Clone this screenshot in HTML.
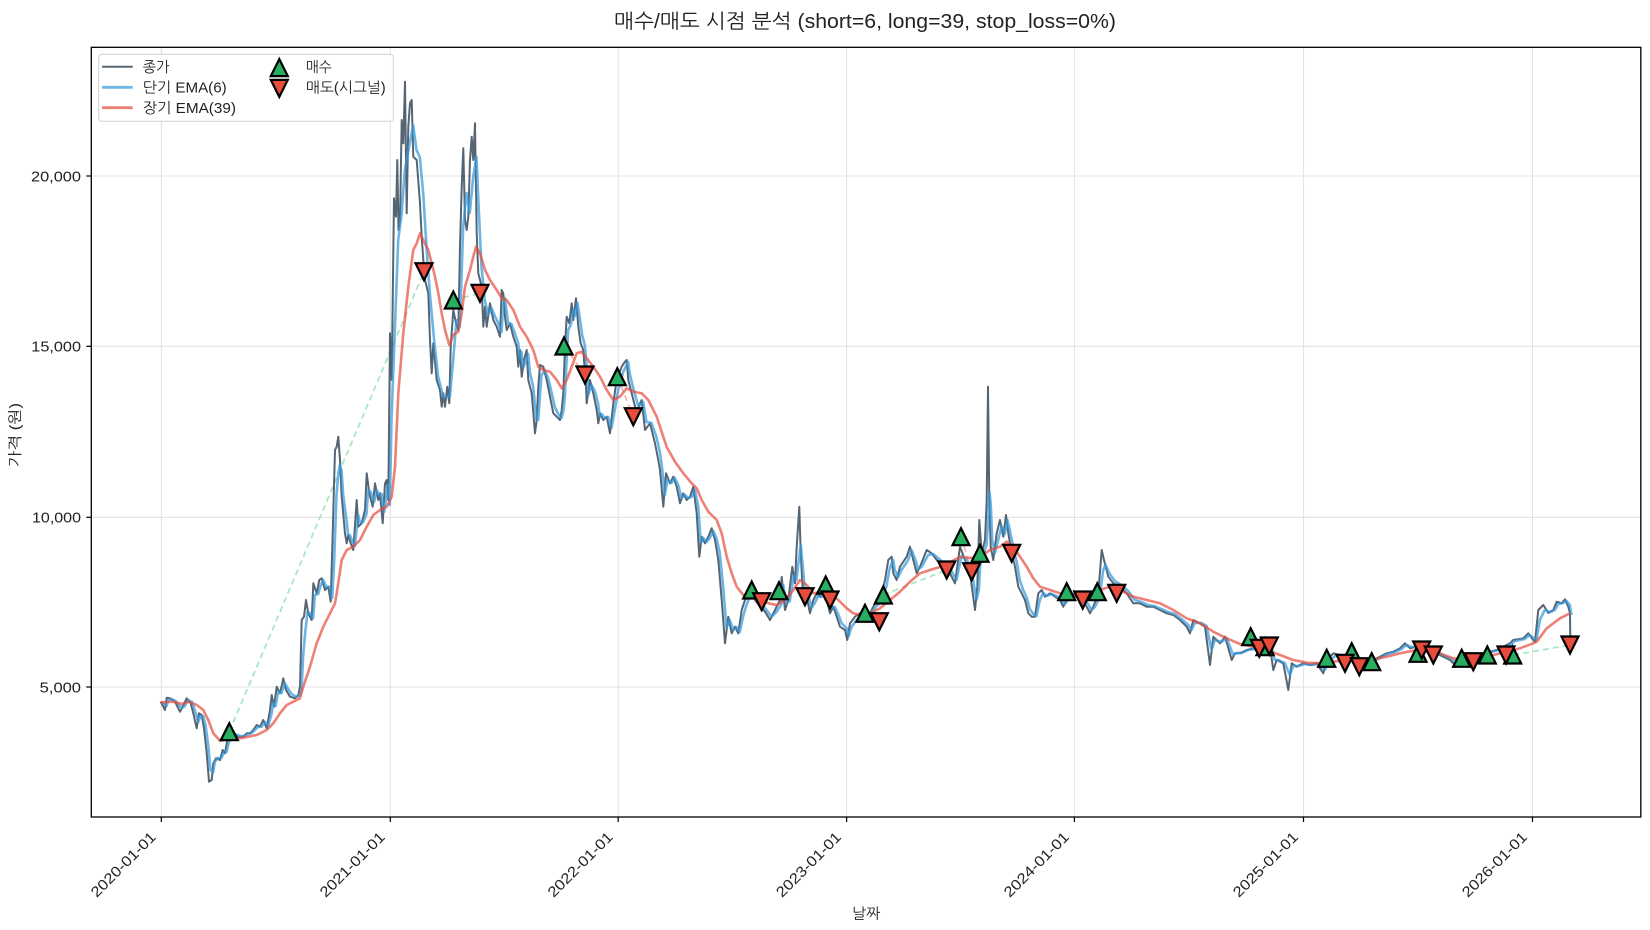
<!DOCTYPE html>
<html>
<head>
<meta charset="utf-8">
<style>
html,body{margin:0;padding:0;background:#fff;}
svg{display:block;}
text{font-family:"Liberation Sans","NanumGothic",sans-serif;fill:#222;}
</style>
</head>
<body>
<svg width="1650" height="930" viewBox="0 0 1650 930" xmlns="http://www.w3.org/2000/svg">
<defs>
<path id="up" d="M0,-8.5 L-8.5,8.5 L8.5,8.5 Z" fill="#27ae60" stroke="#000" stroke-width="2.2" stroke-linejoin="miter"/>
<path id="dn" d="M0,8.5 L-8.5,-8.5 L8.5,-8.5 Z" fill="#e74c3c" stroke="#000" stroke-width="2.2" stroke-linejoin="miter"/>
<clipPath id="ax"><rect x="91.3" y="47.3" width="1549.5" height="769.7"/></clipPath>
</defs>
<rect width="1650" height="930" fill="#fff"/>

<!-- grid -->
<g stroke="#e3e3e3" stroke-width="1.1">
<line x1="161.3" y1="47.3" x2="161.3" y2="817"/>
<line x1="390.3" y1="47.3" x2="390.3" y2="817"/>
<line x1="618.2" y1="47.3" x2="618.2" y2="817"/>
<line x1="846.6" y1="47.3" x2="846.6" y2="817"/>
<line x1="1074.4" y1="47.3" x2="1074.4" y2="817"/>
<line x1="1303.5" y1="47.3" x2="1303.5" y2="817"/>
<line x1="1532.5" y1="47.3" x2="1532.5" y2="817"/>
<line x1="91.3" y1="176" x2="1640.8" y2="176"/>
<line x1="91.3" y1="346.3" x2="1640.8" y2="346.3"/>
<line x1="91.3" y1="517.3" x2="1640.8" y2="517.3"/>
<line x1="91.3" y1="687" x2="1640.8" y2="687"/>
</g>

<g clip-path="url(#ax)">
<!-- trade dashed lines -->
<g stroke-width="1.8" stroke-dasharray="6,4" fill="none">
<line x1="229.3" y1="731.7" x2="424" y2="271.7" stroke="#abe6c3"/>
<line x1="453.3" y1="300" x2="480" y2="293.3" stroke="#abe6c3"/>
<line x1="564" y1="346" x2="585" y2="375" stroke="#f5b7b1"/>
<line x1="617.3" y1="376.7" x2="633.3" y2="416.7" stroke="#f5b7b1"/>
<line x1="883.3" y1="595" x2="946.7" y2="570" stroke="#abe6c3"/>
<line x1="961" y1="536.7" x2="971.7" y2="571.7" stroke="#f5b7b1"/>
<line x1="1513.3" y1="655" x2="1570" y2="645" stroke="#abe6c3"/>
</g>

<!-- close -->
<polyline fill="none" stroke="#2c3e50" stroke-opacity="0.8" stroke-width="2" stroke-linejoin="round" points="160.7,701.7 165,710 166.7,697.7 170,698.3 175,701.7 180,711.7 182.7,706.7 186.7,698.3 190.7,703.3 193.3,713.3 196.7,728.3 199,713.3 201.7,715 204,728.3 206.7,753.3 209,781.7 211.7,780 213.3,763.3 216,758.3 220,760 222.7,750 225,753.3 227.3,740 230,731.7 233.3,733.3 238.3,736.7 243.3,736.7 246.7,733.3 250,733.3 253.3,730 256.7,725 260,726.7 263.3,720 266.7,728.3 270,710 271.7,695 274,706.7 276.7,686.7 280,693.3 283.3,678.3 286,690 290,696.7 295,698.3 298.3,695 300,686.7 301.7,620 304,616.7 306,600 308.3,613.3 311.7,620 313.3,583.3 316.7,593.3 319.3,580 321.7,578.3 325,590 328.3,586.7 330.7,601.7 332.7,533.3 335,450 336.7,446.7 338.3,436.7 340,460 341.7,496.7 345,533.3 346.7,543.3 348.3,535 350.7,543.3 353.3,550 356.7,500 358.3,526.7 361.7,523.3 365,510 366.7,473.3 369.3,493.3 372.7,506.7 375,483.3 378.3,500 380,493.3 382.7,523.3 385,483.3 386.7,480 388.3,500 390,333.3 391.7,380 393.3,253.3 394,198.3 396,216.7 397.3,160 398.5,230 400,220 401.7,120 403.3,143.3 405,81.7 406.7,213.3 408.3,126.7 410,103.3 411.7,100 413.3,156.7 416.7,160 420,203.3 421.7,236.7 423.3,260 425,280 428.3,293.3 430,340 431.7,373.3 433.3,343.3 436.7,380 440,390 441.7,406.7 443.3,393.3 445,406.7 447.3,386.7 449.3,403.3 450.7,346.7 453.3,310 456,323.3 458.3,330 460,246.7 461.7,186.7 463.3,148.3 465,220 466.7,230 468.3,216.7 470,160 471.7,136.7 473.3,160 475,123.3 476.7,233.3 478.3,273.3 481.7,286.7 483.3,326.7 485,306.7 486.7,326.7 490,303.3 493.3,320 496.7,326.7 500,336.7 501.7,290 503.3,293.3 505,316.7 506.7,330 510,323.3 513.3,336.7 516.7,346.7 518.3,366.7 520,350 521.7,376.7 524,360 526.7,350 528.3,380 531.7,393.3 535,433.3 536.7,420 538.3,386.7 540,365 543.3,366.7 546.7,380 550,396.7 553.3,413.3 556.7,416.7 560,420 561.7,410 563.3,393.3 565,346.7 566.7,316.7 569.3,323.3 571.7,303.3 573.3,320 576,298.3 578.3,326.7 580.7,343.3 583.3,350 586,386.7 586.7,403.3 590,380 593.3,393.3 596.7,410 598.3,423.3 600,413.3 603.3,420 606.7,416.7 610,433.3 613.3,403.3 616.7,380 621.7,366.7 625,361.7 626.7,360 628.3,380 631.7,393.3 636.7,413.3 640,403.3 641.7,400 645,430 650,423.3 655,443.3 658.3,460 660,470 663.3,506.7 666,473.3 670,483.3 673.3,476.7 676.7,486.7 680,503.3 683.3,493.3 686.7,500 690,496.7 693.3,486.7 696.7,513.3 699.3,556.7 701.7,536.7 705,543.3 708.3,536.7 711.7,528.3 715,540 718.3,560 721.7,600 725,643.3 728.3,616.7 731.7,633.3 735,626.7 738.3,633.3 741.7,610 745,600 748.3,593.3 751.7,586.7 755,600 760,606.7 765,611.7 770,620 775,610 780,600 781.7,576.7 785,610 788.3,600 792.3,566.7 795,583.3 796.7,546.7 799.3,506.7 800.7,553.3 803.3,600 806.7,596.7 810,613.3 813.3,600 816.7,593.3 820,596.7 823.3,586.7 826.7,600 830,613.3 833.3,606.7 836.7,616.7 840,626.7 845,630 847.3,640 850,623.3 855,616.7 860,613.3 865,610 870,613.3 875,603.3 880,600 885,580 888.3,560 891.7,556.7 893.3,573.3 896.7,580 900,566.7 906.7,556.7 910,546.7 913.3,560 916.7,573.3 920,566.7 926.7,550 931.7,553.3 936.7,560 943.3,566.7 950,573.3 955,583.3 960,546.7 965,560 970,573.3 975,610 977.3,586.7 979.3,520 981.7,553.3 985,540 986.7,500 988,386.7 989.3,500 990.7,546.7 993.3,560 996.7,533.3 1000,520 1003.3,536.7 1006,515 1008.3,533.3 1011.7,553.3 1015,566.7 1018.3,586.7 1021.7,593.3 1025,600 1028.3,613.3 1031.7,616.7 1035,616.7 1038.3,593.3 1041.7,590 1045,596.7 1050,593.3 1055,596.7 1060,600 1063.3,606.7 1070,593.3 1076.7,595 1081.7,600 1086.7,606.7 1090,613.3 1093.3,606.7 1098.3,593.3 1101.7,550 1104,560 1108.3,576.7 1113.3,583.3 1120,586.7 1126.7,593.3 1133.3,603.3 1140,603.3 1146.7,606.7 1153.3,606.7 1160,610 1166.7,613.3 1173.3,615 1180,620 1186.7,626.7 1190,633.3 1193.3,620 1200,623.3 1205,626.7 1210,665 1213.3,636.7 1220,643.3 1225,636.7 1231.7,660 1235,653.3 1240,653.3 1246.7,650 1253.3,648.3 1260,650 1265,643.3 1270,646.7 1273.3,670 1276.7,660 1283.3,663.3 1288.3,690 1291.7,663.3 1296.7,666.7 1303.3,663.3 1310,665 1316.7,663.3 1323.3,673.3 1326.7,660 1333.3,653.3 1340,655 1346.7,656.7 1353.3,660 1360,666.7 1366.7,666.7 1373.3,660 1380,656.7 1386.7,653.3 1393.3,651.7 1400,648.3 1405,643.3 1410,648.3 1416.7,646.7 1423.3,650 1430,653.3 1436.7,653.3 1443.3,656.7 1450,660 1456.7,666.7 1463.3,663.3 1470,660 1476.7,656.7 1483.3,653.3 1490,651.7 1496.7,650 1503.3,646.7 1510,643.3 1513.3,640 1523.3,638.3 1528.3,633.3 1533.3,640 1535,641.7 1538.3,610 1543.3,605 1548.3,613 1553.3,610 1556.7,601.7 1561.7,603.3 1565,599.3 1568.3,606.7 1570,613.3 1570.3,638"/>

<!-- short EMA -->
<polyline transform="translate(1.5,0)" fill="none" stroke="#3498db" stroke-opacity="0.72" stroke-width="2.6" stroke-linejoin="round" points="160.7,701.7 165,706 166.7,700 170,699 175,701.7 180,708 182.7,706.7 186.7,700 190.7,702 193.3,710 196.7,722 199,716 201.7,716 204,725 206.7,745 209,770 211.7,772 213.3,762 216,758 220,758 222.7,752 225,752 227.3,743 230,735 233.3,734 238.3,736 243.3,736 246.7,734 250,733 253.3,730 256.7,727 260,726.7 263.3,722 266.7,726 270,714 271.7,703 274,706 276.7,692 280,693 283.3,683 286,688 290,694 295,697 298.3,695 300,690 301.7,655 304,630 306,612 308.3,613 311.7,618 313.3,595 316.7,594 319.3,585 321.7,580 325,587 328.3,587 330.7,598 332.7,560 335,495 336.7,475 338.3,465 340,470 341.7,495 345,520 346.7,535 348.3,535 350.7,541 353.3,546 356.7,515 358.3,522 361.7,522 365,514 366.7,490 369.3,492 372.7,502 375,490 378.3,496 380,494 382.7,512 385,495 386.7,485 388.3,505 390,420 393.3,330 396.7,240 400,215 403.3,170 408.3,143 411.7,125 415,150 418.3,157 421.7,193 425,247 428.3,293 433.3,347 436.7,377 441.7,397 448.3,397 451.7,360 455,320 458.3,327 461.7,227 465,193 468.3,213 471.7,177 475,157 477.3,210 480,267 483.3,300 486.7,315 490,308 493.3,316 496.7,323 500,332 501.7,305 503.3,298 505,310 506.7,324 510,324 513.3,333 516.7,343 518.3,358 520,352 521.7,368 524,362 526.7,354 528.3,372 531.7,387 535,420 536.7,420 538.3,398 540,375 543.3,370 546.7,378 550,392 553.3,407 556.7,414 560,418 561.7,412 563.3,398 565,362 566.7,330 569.3,325 571.7,310 573.3,316 576,303 578.3,318 580.7,335 583.3,345 586,375 586.7,395 590,385 593.3,391 596.7,404 598.3,417 600,414 603.3,418 606.7,417 610,428 613.3,410 616.7,390 621.7,372 625,365 626.7,362 628.3,374 631.7,388 636.7,406 640,404 641.7,402 645,422 650,423 655,437 658.3,452 660,463 663.3,495 666,480 670,483 673.3,478 676.7,485 680,498 683.3,495 686.7,498 690,497 693.3,490 696.7,506 699.3,543 701.7,538 705,542 708.3,538 711.7,531 715,538 718.3,553 721.7,587 725,628 728.3,620 731.7,630 735,627 738.3,632 741.7,616 745,605 748.3,597 751.7,590 755,597 760,604 765,610 770,617 775,612 780,604 781.7,585 785,603 788.3,601 792.3,575 795,580 796.7,565 799.3,545 800.7,560 803.3,590 806.7,595 810,608 813.3,603 816.7,596 820,597 823.3,590 826.7,597 830,608 833.3,607 836.7,614 840,623 845,628 847.3,636 850,627 855,620 860,615 865,611 870,613 875,606 880,602 885,586 888.3,568 891.7,560 893.3,570 896.7,577 900,570 906.7,560 910,550 913.3,558 916.7,569 920,567 926.7,555 931.7,554 936.7,558 943.3,564 950,571 955,580 960,556 965,560 970,570 975,600 977.3,590 979.3,555 981.7,555 985,545 986.7,520 988,492 989.3,505 990.7,540 993.3,553 996.7,540 1000,526 1003.3,534 1006,520 1008.3,530 1011.7,547 1015,561 1018.3,580 1021.7,590 1025,597 1028.3,609 1031.7,614 1035,616 1038.3,600 1041.7,593 1045,596 1050,594 1055,596 1060,599 1063.3,604 1070,596 1076.7,595 1081.7,599 1086.7,604 1090,610 1093.3,607 1098.3,597 1101.7,570 1104,565 1108.3,574 1113.3,581 1120,585 1126.7,591 1133.3,600 1140,602 1146.7,605 1153.3,606 1160,609 1166.7,612 1173.3,614 1180,619 1186.7,625 1190,630 1193.3,623 1200,623 1205,626 1210,650 1213.3,640 1220,642 1225,638 1231.7,655 1235,653 1240,653 1246.7,650 1253.3,649 1260,650 1265,645 1270,646 1273.3,660 1276.7,660 1283.3,663 1288.3,675 1291.7,666 1296.7,666 1303.3,664 1310,665 1316.7,664 1323.3,670 1326.7,663 1333.3,656 1340,655 1346.7,656 1353.3,659 1360,665 1366.7,666 1373.3,661 1380,657 1386.7,654 1393.3,652 1400,649 1405,645 1410,647 1416.7,647 1423.3,649 1430,652 1436.7,653 1443.3,656 1450,659 1456.7,665 1463.3,664 1470,661 1476.7,657 1483.3,654 1490,652 1496.7,650 1503.3,647 1510,644 1513.3,641 1523.3,639 1528.3,635 1533.3,639 1535,640 1538.3,620 1543.3,610 1548.3,612 1553.3,610 1556.7,604 1561.7,603 1565,601 1568.3,605 1570,615"/>

<!-- long EMA -->
<polyline fill="none" stroke="#e74c3c" stroke-opacity="0.7" stroke-width="2.6" stroke-linejoin="round" points="160.7,702.3 173.3,701.7 181.7,704 188.3,701.7 196.7,705 203.3,710 208.3,720 213.3,733.3 220,740.7 230,738.3 240,738.3 248.3,736.7 256.7,735 266.7,730 273.3,723.3 280,713.3 286.7,705 293.3,701.7 300,698.3 303.3,686.7 310,666.7 316.7,643.3 323.3,626.7 330,613.3 335,603.3 336.7,593.3 341.7,560 346.7,550 353.3,546.7 360,540 366.7,526.7 373.3,515 380,510 386.7,506.7 391.7,496.7 395,466.7 398.3,393.3 403.3,333.3 408.3,286.7 413.3,250 416.7,243.3 420,233.3 423.3,240 428.3,250 431.7,263.3 435,276.7 438.3,293.3 441.7,313.3 445,330 449.3,345 453.3,335 458.3,331.7 461.7,313.3 465,286.7 470,270 473.3,256.7 476,246.7 480,253.3 485,270 490,280 496.7,290 501.7,298.3 506.7,300 513.3,310 520,326.7 526.7,336.7 533.3,350 538.3,366.7 543.3,370 550,371.7 556.7,380 561.7,388.3 566.7,380 571.7,366.7 576.7,353.3 581.7,351.7 586.7,358.3 593.3,366.7 600,376.7 606.7,390 613.3,400 620,396.7 626.7,388.3 633.3,391.7 641.7,393.3 648.3,400 656.7,416.7 663.3,436.7 666.7,447 675,461.7 683.3,473.3 691.7,483.3 696.7,488.3 701.7,500 708.3,511.7 716.7,520 721.7,533.3 726.7,556.7 731.7,573.3 736.7,586.7 743.3,595 751.7,596.7 760,600 768.3,603.3 776.7,605 785,600 793.3,590 800,580 806.7,585 813.3,593.3 821.7,591.7 830,593.3 838.3,600 846.7,608.3 853.3,613.3 861.7,615 870,613.3 880,608.3 890,600 900,591.7 910,581.7 920,573.3 930,570 940,567 950,562 960,557 970,558 980,556.7 990,550 1000,546.7 1006.7,541.7 1013.3,546.7 1020,556.7 1026.7,566.7 1033.3,578.3 1040,586.7 1050,590 1060,593.3 1073.3,596.7 1086.7,596.7 1100,590 1110,586.7 1120,590 1133.3,596.7 1146.7,600 1160,603.3 1173.3,610 1186.7,618.3 1200,623.3 1213.3,631.7 1226.7,638.3 1240,644 1253.3,646.7 1266.7,650 1280,655 1293.3,660 1306.7,662.7 1320,663.3 1333.3,661.7 1346.7,660 1360,660 1373.3,659.3 1386.7,656.7 1400,653.3 1413.3,650.7 1426.7,650 1440,653.3 1453.3,658.3 1466.7,660 1480,658.3 1493.3,655 1506.7,651.7 1520,648.3 1533.3,643.3 1536.7,641.7 1546.7,628.3 1560,618.3 1570,613.3"/>

<!-- buy markers -->
<use href="#up" x="229.3" y="731.7"/>
<use href="#up" x="453.3" y="300"/>
<use href="#up" x="564" y="346"/>
<use href="#up" x="617.3" y="376.7"/>
<use href="#up" x="751.7" y="590"/>
<use href="#up" x="779" y="590.7"/>
<use href="#up" x="825.7" y="585"/>
<use href="#up" x="865" y="613.3"/>
<use href="#up" x="883.3" y="595"/>
<use href="#up" x="961" y="536.7"/>
<use href="#up" x="980" y="553.3"/>
<use href="#up" x="1066.7" y="591.7"/>
<use href="#up" x="1097.3" y="591.7"/>
<use href="#up" x="1250.7" y="636.7"/>
<use href="#up" x="1265" y="646.7"/>
<use href="#up" x="1326.7" y="658.3"/>
<use href="#up" x="1351.7" y="651.7"/>
<use href="#up" x="1371.7" y="661.7"/>
<use href="#up" x="1418" y="653.3"/>
<use href="#up" x="1461.7" y="658.3"/>
<use href="#up" x="1487.3" y="655"/>
<use href="#up" x="1512.7" y="655"/>
<!-- sell markers -->
<use href="#dn" x="424" y="271.7"/>
<use href="#dn" x="480" y="293.3"/>
<use href="#dn" x="585" y="375"/>
<use href="#dn" x="633.3" y="416.7"/>
<use href="#dn" x="761.7" y="601.7"/>
<use href="#dn" x="805" y="596.7"/>
<use href="#dn" x="830" y="600"/>
<use href="#dn" x="879.3" y="621.7"/>
<use href="#dn" x="946.7" y="570"/>
<use href="#dn" x="971.7" y="571.7"/>
<use href="#dn" x="1011.7" y="553.3"/>
<use href="#dn" x="1082.7" y="600"/>
<use href="#dn" x="1116.7" y="593.3"/>
<use href="#dn" x="1259.3" y="648.3"/>
<use href="#dn" x="1269.3" y="646"/>
<use href="#dn" x="1345" y="663.3"/>
<use href="#dn" x="1359.3" y="666.7"/>
<use href="#dn" x="1421.7" y="650"/>
<use href="#dn" x="1433.3" y="655"/>
<use href="#dn" x="1473.3" y="661.7"/>
<use href="#dn" x="1506" y="655"/>
<use href="#dn" x="1570" y="645"/>
</g>

<!-- axes frame -->
<rect x="91.3" y="47.3" width="1549.5" height="769.7" fill="none" stroke="#000" stroke-width="1.3"/>

<!-- ticks -->
<g stroke="#000" stroke-width="1.2">
<line x1="86.3" y1="176" x2="91.3" y2="176"/>
<line x1="86.3" y1="346.3" x2="91.3" y2="346.3"/>
<line x1="86.3" y1="517.3" x2="91.3" y2="517.3"/>
<line x1="86.3" y1="687" x2="91.3" y2="687"/>
<line x1="161.3" y1="817" x2="161.3" y2="822"/>
<line x1="390.3" y1="817" x2="390.3" y2="822"/>
<line x1="618.2" y1="817" x2="618.2" y2="822"/>
<line x1="846.6" y1="817" x2="846.6" y2="822"/>
<line x1="1074.4" y1="817" x2="1074.4" y2="822"/>
<line x1="1303.5" y1="817" x2="1303.5" y2="822"/>
<line x1="1532.5" y1="817" x2="1532.5" y2="822"/>
</g>

<!-- y tick labels -->
<g font-size="14.7" text-anchor="end">
<text x="81" y="181.3" textLength="50" lengthAdjust="spacingAndGlyphs">20,000</text>
<text x="81" y="351.6" textLength="49.7" lengthAdjust="spacingAndGlyphs">15,000</text>
<text x="81" y="522.6" textLength="49" lengthAdjust="spacingAndGlyphs">10,000</text>
<text x="81" y="692.3" textLength="41.3" lengthAdjust="spacingAndGlyphs">5,000</text>
</g>

<!-- x tick labels -->
<g font-size="14.7" text-anchor="end">
<text transform="translate(156.8,838) rotate(-45)" textLength="85" lengthAdjust="spacingAndGlyphs">2020-01-01</text>
<text transform="translate(385.8,838) rotate(-45)" textLength="85" lengthAdjust="spacingAndGlyphs">2021-01-01</text>
<text transform="translate(613.7,838) rotate(-45)" textLength="85" lengthAdjust="spacingAndGlyphs">2022-01-01</text>
<text transform="translate(842.1,838) rotate(-45)" textLength="85" lengthAdjust="spacingAndGlyphs">2023-01-01</text>
<text transform="translate(1069.9,838) rotate(-45)" textLength="85" lengthAdjust="spacingAndGlyphs">2024-01-01</text>
<text transform="translate(1299,838) rotate(-45)" textLength="85" lengthAdjust="spacingAndGlyphs">2025-01-01</text>
<text transform="translate(1528,838) rotate(-45)" textLength="85" lengthAdjust="spacingAndGlyphs">2026-01-01</text>
</g>

<!-- axis labels -->
<text x="866" y="918.5" font-size="14.7" text-anchor="middle" textLength="28.5" lengthAdjust="spacingAndGlyphs">날짜</text>
<text transform="translate(19.8,435) rotate(-90)" font-size="14.7" text-anchor="middle" textLength="64" lengthAdjust="spacingAndGlyphs">가격 (원)</text>

<!-- title -->
<text x="865" y="28" font-size="20" text-anchor="middle" textLength="502" lengthAdjust="spacingAndGlyphs">매수/매도 시점 분석 (short=6, long=39, stop_loss=0%)</text>

<!-- legend -->
<rect x="98.7" y="54.3" width="294.6" height="67" rx="3" ry="3" fill="#fff" fill-opacity="0.85" stroke="#d0d0d0" stroke-width="1"/>
<line x1="102" y1="66.7" x2="132.7" y2="66.7" stroke="#2c3e50" stroke-opacity="0.8" stroke-width="2"/>
<line x1="102" y1="87.3" x2="132.7" y2="87.3" stroke="#3498db" stroke-opacity="0.7" stroke-width="2.8"/>
<line x1="102" y1="107.7" x2="132.7" y2="107.7" stroke="#e74c3c" stroke-opacity="0.7" stroke-width="2.8"/>
<g font-size="14.7">
<text x="142.7" y="72" textLength="26.7" lengthAdjust="spacingAndGlyphs">종가</text>
<text x="142.7" y="92.6" textLength="84" lengthAdjust="spacingAndGlyphs">단기 EMA(6)</text>
<text x="142.7" y="113" textLength="93.3" lengthAdjust="spacingAndGlyphs">장기 EMA(39)</text>
<text x="306" y="72" textLength="25.7" lengthAdjust="spacingAndGlyphs">매수</text>
<text x="306" y="92.6" textLength="79.7" lengthAdjust="spacingAndGlyphs">매도(시그널)</text>
</g>
<use href="#up" x="279.3" y="67.6"/>
<use href="#dn" x="279.3" y="88.4"/>
</svg>
</body>
</html>
